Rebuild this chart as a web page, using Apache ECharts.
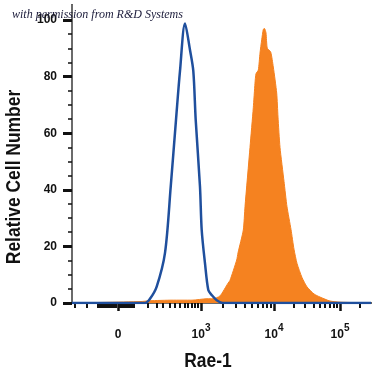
<!DOCTYPE html>
<html>
<head>
<meta charset="utf-8">
<script src="https://cdn.jsdelivr.net/npm/echarts@6/dist/echarts.min.js"></script>
<style>html,body{margin:0;padding:0;background:#fff}#c{width:375px;height:375px}</style>
</head>
<body>
<div id="c"></div>
<script>
// x axis in display channels (0..299), y in relative cell number
var isotypeX = [0, 73, 78, 84.7, 93, 98.7, 104, 108, 113, 118, 121.3, 123.7, 128, 129.7, 133, 136.3, 139.7, 144.7, 151, 299];
var isotypeY = [0, 0, 1.5, 5.8, 17.7, 41, 64.7, 82, 98.8, 89.4, 82, 64.7, 41, 25.8, 14, 4.6, 2.8, 1, 0, 0];

var rae1X = [0, 68, 78, 100, 120, 135, 141, 148, 156, 158, 164.7, 166, 171.3, 173, 178, 181.3, 183, 184, 186.3, 188, 189.7, 191.3, 192.5, 194, 195.3, 198.7, 201.3, 204.7, 206, 208, 212, 215, 219, 222, 225, 230, 235, 242, 248, 258, 268, 299];
var rae1Y = [0, 0.5, 0.8, 1, 1, 1.5, 1.5, 2.5, 7, 8, 15.2, 17.7, 25.8, 34, 55, 69, 77.7, 81, 82.3, 88.3, 93, 96.7, 97, 95.4, 90, 88.7, 83.4, 74.2, 65.7, 55, 43, 34, 26, 19, 14, 9, 5.7, 3.2, 2.1, 0.7, 0.3, 0];

var xTickPos = [46, 129, 202, 268];
var xTickLabels = ['0', '10|3', '10|4', '10|5'];
var xMinorTicks = [3, 15, 26, 28, 30, 32, 34, 36, 38, 40, 42, 44, 48, 50, 52, 54, 56, 58, 60, 62, 76, 85, 91, 98, 103, 108, 113, 116, 120, 123, 126, 151, 164, 173, 180, 186, 191, 195, 199, 222, 233, 242, 248, 253, 258, 262, 265, 288];
var yTicks = [0, 20, 40, 60, 80, 100];
var yMinorTicks = [5, 10, 15, 25, 30, 35, 45, 50, 55, 65, 70, 75, 85, 90, 95];

function pairs(xs, ys) { return xs.map(function (x, i) { return [x, ys[i]]; }); }

var chart = echarts.init(document.getElementById('c'));
var XMIN = 0, XMAX = 299, YMIN = 0, YMAX = 105.3;
var boldFont = '"Liberation Sans", Arial, sans-serif';

chart.setOption({
  animation: false,
  grid: { left: 72, right: 4, top: 5, bottom: 72, containLabel: false },
  xAxis: [
    {
      type: 'value', min: XMIN, max: XMAX, position: 'bottom',
      axisLine: { show: true, lineStyle: { color: '#111', width: 2 } },
      axisTick: { show: true, customValues: xTickPos, length: 8, lineStyle: { color: '#111', width: 2.5 } },
      axisLabel: {
        show: true, customValues: xTickPos, margin: 17,
        formatter: function (v) {
          var i = xTickPos.indexOf(v);
          if (i < 0) return '';
          var parts = xTickLabels[i].split('|');
          if (parts.length === 1) return '{b|' + parts[0] + '}';
          return '{b|' + parts[0] + '}{s|' + parts[1] + '}';
        },
        rich: {
          b: { fontSize: 12, fontWeight: 'bold', fontFamily: boldFont, color: '#111', padding: [9, 0, 0, 0] },
          s: { fontSize: 10, fontWeight: 'bold', fontFamily: boldFont, color: '#111', padding: [0, 0, 4, 0] }
        }
      },
      splitLine: { show: false }
    },
    {
      type: 'value', min: XMIN, max: XMAX, position: 'bottom',
      axisLine: { show: false },
      axisTick: { show: true, customValues: xMinorTicks, length: 5, lineStyle: { color: '#111', width: 2 } },
      axisLabel: { show: false },
      splitLine: { show: false }
    },
    {
      type: 'value', min: XMIN, max: XMAX, position: 'top',
      axisLine: { show: true, lineStyle: { color: '#6b6b6b', width: 2 } },
      axisTick: { show: false }, axisLabel: { show: false }, splitLine: { show: false }
    }
  ],
  yAxis: [
    {
      type: 'value', min: YMIN, max: YMAX, position: 'left',
      axisLine: { show: true, lineStyle: { color: '#111', width: 2 } },
      axisTick: { show: true, customValues: yTicks, length: 9, lineStyle: { color: '#111', width: 3 } },
      axisLabel: { show: true, customValues: yTicks, margin: 15, fontSize: 12, fontWeight: 'bold', fontFamily: boldFont, color: '#111' },
      splitLine: { show: false }
    },
    {
      type: 'value', min: YMIN, max: YMAX, position: 'left',
      axisLine: { show: false },
      axisTick: { show: true, customValues: yMinorTicks, length: 4, lineStyle: { color: '#111', width: 1.5 } },
      axisLabel: { show: false }, splitLine: { show: false }
    },
    {
      type: 'value', min: YMIN, max: YMAX, position: 'right',
      axisLine: { show: true, lineStyle: { color: '#6b6b6b', width: 2 } },
      axisTick: { show: false }, axisLabel: { show: false }, splitLine: { show: false }
    }
  ],
  series: [
    {
      name: 'Rae-1', type: 'line', xAxisIndex: 0, yAxisIndex: 0,
      data: pairs(rae1X, rae1Y), symbol: 'none', smooth: 0.2, z: 2,
      lineStyle: { color: '#f58220', width: 1 },
      areaStyle: { color: '#f58220', opacity: 1 }
    },
    {
      name: 'Isotype', type: 'line', xAxisIndex: 0, yAxisIndex: 0,
      data: pairs(isotypeX, isotypeY), symbol: 'none', smooth: 0.3, z: 3,
      lineStyle: { color: '#1f4f9d', width: 2.5 }
    }
  ],
  graphic: [
    {
      type: 'text', left: 12, top: 9, z: 100,
      style: { text: 'with permission from R&D Systems', font: 'italic 12px "Liberation Serif", "DejaVu Serif", serif', fill: '#1b1b3a' }
    },
    {
      type: 'text', x: 14, y: 177, rotation: Math.PI / 2, scaleX: 0.83,
      style: { text: 'Relative Cell Number', font: 'bold 21px ' + boldFont, fill: '#111', align: 'center', verticalAlign: 'middle' }
    },
    {
      type: 'text', x: 208, y: 361, scaleX: 0.83,
      style: { text: 'Rae-1', font: 'bold 21px ' + boldFont, fill: '#111', align: 'center', verticalAlign: 'middle' }
    }
  ]
});
</script>
</body>
</html>
